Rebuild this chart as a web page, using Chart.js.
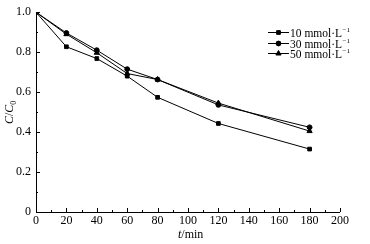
<!DOCTYPE html>
<html lang="zh">
<head>
    <meta charset="UTF-8">
    <title>C/C0 vs t</title>
    <style>
        html, body { margin: 0; padding: 0; background: #fff; }
        #wrap { width: 370px; height: 244px; }
    </style>
</head>
<body>
    <div id="wrap"><canvas id="chart" width="370" height="244"></canvas></div>

    <script src="https://cdn.jsdelivr.net/npm/chart.js@4/dist/chart.umd.min.js"></script>
    <script>
        // Data
        var times = [0, 20, 40, 60, 80, 120, 180];
        var conc10 = [1.0, 0.827, 0.768, 0.680, 0.574, 0.443, 0.315];
        var conc30 = [1.0, 0.896, 0.810, 0.715, 0.663, 0.536, 0.424];
        var conc50 = [1.0, 0.890, 0.797, 0.693, 0.663, 0.545, 0.405];
        var seriesLabels = ['10 mmol\u00b7L', '30 mmol\u00b7L', '50 mmol\u00b7L'];
        var xTicks = [0, 20, 40, 60, 80, 100, 120, 140, 160, 180, 200];
        var yTicks = [0, 0.2, 0.4, 0.6, 0.8, 1.0];

        var serif = "'Liberation Serif', 'Times New Roman', serif";

        function pts(ys) {
            return times.map(function(t, i) { return {x: t, y: ys[i]}; });
        }

        function makeSet(label, ys, shape, r) {
            return {
                label: label,
                data: pts(ys),
                borderColor: '#000',
                backgroundColor: '#000',
                borderWidth: 1,
                pointStyle: shape,
                pointRadius: r,
                pointBorderWidth: 1,
                fill: false,
                tension: 0
            };
        }

        // Inward ticks, axis titles and legend
        var decor = {
            id: 'decor',
            afterDraw: function(chart) {
                var ctx = chart.ctx;
                var xs = chart.scales.x, ys = chart.scales.y;
                var area = chart.chartArea;
                ctx.save();
                ctx.strokeStyle = '#000';
                ctx.lineWidth = 1;
                ctx.beginPath();
                // axes lines
                ctx.moveTo(area.left + 0.5, area.top);
                ctx.lineTo(area.left + 0.5, area.bottom + 0.5);
                ctx.lineTo(area.right, area.bottom + 0.5);
                // x ticks
                for (var v = 0; v <= 200; v += 10) {
                    var px = Math.round(xs.getPixelForValue(v)) + 0.5;
                    var len = (v % 20 === 0) ? 4 : 2;
                    ctx.moveTo(px, area.bottom);
                    ctx.lineTo(px, area.bottom - len);
                }
                // y ticks
                for (var k = 0; k <= 10; k++) {
                    var py = Math.round(ys.getPixelForValue(k / 10)) + 0.5;
                    var l2 = (k % 2 === 0) ? 4 : 2;
                    ctx.moveTo(area.left, py);
                    ctx.lineTo(area.left + l2, py);
                }
                ctx.stroke();

                ctx.fillStyle = '#000';
                ctx.textBaseline = 'alphabetic';

                // x title: t/min
                var tx = 178, ty = 238;
                ctx.font = 'italic 12px ' + serif;
                ctx.fillText('t', tx, ty);
                var w = ctx.measureText('t').width;
                ctx.font = '12px ' + serif;
                ctx.fillText('/min', tx + w, ty);

                // y title: C/C0
                ctx.save();
                ctx.translate(13, 124);
                ctx.rotate(-Math.PI / 2);
                var x0 = 0;
                ctx.font = 'italic 12px ' + serif;
                ctx.fillText('C', x0, 0); x0 += ctx.measureText('C').width;
                ctx.font = '12px ' + serif;
                ctx.fillText('/', x0, 0); x0 += ctx.measureText('/').width;
                ctx.font = 'italic 12px ' + serif;
                ctx.fillText('C', x0, 0); x0 += ctx.measureText('C').width;
                ctx.font = '8px ' + serif;
                ctx.fillText('0', x0, 3);
                ctx.restore();

                // legend
                var lx = 268, ly = 32, gap = 10.7;
                chart.data.datasets.forEach(function(ds, i) {
                    var yy = Math.round(ly + i * gap) + 0.5;
                    ctx.beginPath();
                    ctx.moveTo(lx, yy);
                    ctx.lineTo(lx + 21, yy);
                    ctx.stroke();
                    Chart.helpers.drawPoint(ctx, {
                        pointStyle: ds.pointStyle,
                        radius: ds.pointRadius,
                        borderWidth: 1
                    }, lx + 10.5, yy);
                    ctx.fill();
                    ctx.font = '11.5px ' + serif;
                    ctx.fillText(ds.label, lx + 22, yy + 4);
                    var tw = ctx.measureText(ds.label).width;
                    ctx.font = '7px ' + serif;
                    ctx.fillText('\u22121', lx + 22 + tw + 0.5, yy - 1);
                });
                ctx.restore();
            }
        };

        var chart = new Chart(document.getElementById('chart'), {
            type: 'line',
            data: {
                datasets: [
                    makeSet(seriesLabels[0], conc10, 'rect', 2.6),
                    makeSet(seriesLabels[1], conc30, 'circle', 2.4),
                    makeSet(seriesLabels[2], conc50, 'triangle', 3)
                ]
            },
            options: {
                responsive: false,
                animation: false,
                layout: { padding: { left: 0, right: 30, top: 11, bottom: 0 } },
                plugins: {
                    legend: { display: false },
                    tooltip: { enabled: false }
                },
                scales: {
                    x: {
                        type: 'linear',
                        min: 0, max: 200,
                        afterFit: function(s) { s.height = 32; },
                        afterBuildTicks: function(s) {
                            s.ticks = xTicks.map(function(v) { return {value: v}; });
                        },
                        grid: { display: false, drawTicks: false },
                        border: { display: false },
                        ticks: {
                            color: '#000',
                            padding: 2,
                            maxRotation: 0,
                            font: { family: serif, size: 12 }
                        }
                    },
                    y: {
                        type: 'linear',
                        min: 0, max: 1.0,
                        afterFit: function(s) { s.width = 36; },
                        afterBuildTicks: function(s) {
                            s.ticks = yTicks.map(function(v) { return {value: v}; });
                        },
                        grid: { display: false, drawTicks: false },
                        border: { display: false },
                        ticks: {
                            color: '#000',
                            padding: 5,
                            font: { family: serif, size: 12 },
                            callback: function(v) { return v === 0 ? '0' : v.toFixed(1); }
                        }
                    }
                }
            },
            plugins: [decor]
        });
    </script>
</body>
</html>
